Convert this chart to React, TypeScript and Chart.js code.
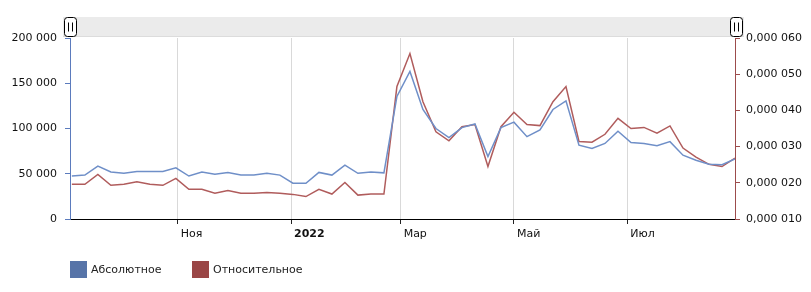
import React, { useEffect, useRef } from "react";
import { Chart, registerables } from "chart.js";

Chart.register(...registerables);

// ---- data ----
const axisStartDate = "2021-09-04";
const axisEndDate = "2022-08-28";
const firstWeekDate = "2021-09-05";

const absoluteValues = [
  47500, 48500, 58500, 52000, 50500, 52500, 52500, 52500, 56500, 47500,
  52000, 49500, 51500, 48500, 48500, 50500, 48500, 39500, 39500, 51500,
  48500, 59500, 50500, 52000, 51000, 135500, 163000, 121000, 100000, 90000,
  101000, 105000, 69000, 101000, 107000, 91000, 98500, 121000, 130500, 81500,
  78000, 83500, 97000, 84500, 83500, 81000, 85500, 70500, 65000, 60500,
  60000, 66500,
];

const relativeValues = [
  0.0000196, 0.0000196, 0.0000223, 0.0000193, 0.0000196, 0.0000203, 0.0000196, 0.0000193, 0.0000212, 0.0000182,
  0.0000182, 0.0000171, 0.0000179, 0.0000171, 0.0000171, 0.0000173, 0.0000171, 0.0000168, 0.0000162, 0.0000182,
  0.0000169, 0.0000201, 0.0000166, 0.0000169, 0.0000169, 0.0000466, 0.0000557, 0.0000424, 0.0000341, 0.0000316,
  0.0000355, 0.0000361, 0.0000245, 0.0000355, 0.0000395, 0.0000361, 0.0000358, 0.0000424, 0.0000466, 0.0000314,
  0.0000312, 0.0000334, 0.0000378, 0.000035, 0.0000353, 0.0000337, 0.0000357, 0.0000296, 0.0000271, 0.0000251,
  0.0000245, 0.0000268,
];

const monthTickDates = ["2021-11-01", "2022-01-01", "2022-03-01", "2022-05-01", "2022-07-01"];
const monthTickLabels = ["Ноя", "2022", "Мар", "Май", "Июл"];
const boldTickLabels = ["2022"];

const leftTicks = [0, 50000, 100000, 150000, 200000];
const rightTicks = [0.00001, 0.00002, 0.00003, 0.00004, 0.00005, 0.00006];

const seriesNames = ["Абсолютное", "Относительное"];

// ---- styles ----
const FONT = "'DejaVu Sans', Verdana, sans-serif";
const BLUE_LINE = "#6f8fc8";
const RED_LINE = "#b05c5c";
const BLUE_BOX = "#5774a8";
const RED_BOX = "#9a4646";
const BLUE_AXIS = "#5b7bbd";
const RED_AXIS = "#9c4c4c";

const DAY = 86400000;
const toDay = (s: string) => {
  const [y, m, d] = s.split("-").map(Number);
  return Date.UTC(y, m - 1, d);
};
const dayOffset = (s: string) => Math.round((toDay(s) - toDay(axisStartDate)) / DAY);

const fmtThousands = (v: number) =>
  String(Math.round(v)).replace(/\B(?=(\d{3})+(?!\d))/g, " ");
const fmtRel = (v: number) => "0,000 " + String(Math.round(v * 1e6)).padStart(3, "0");

const roundRect = (ctx: CanvasRenderingContext2D, x: number, y: number, w: number, h: number, r: number) => {
  ctx.beginPath();
  ctx.moveTo(x + r, y);
  ctx.lineTo(x + w - r, y);
  ctx.quadraticCurveTo(x + w, y, x + w, y + r);
  ctx.lineTo(x + w, y + h - r);
  ctx.quadraticCurveTo(x + w, y + h, x + w - r, y + h);
  ctx.lineTo(x + r, y + h);
  ctx.quadraticCurveTo(x, y + h, x, y + h - r);
  ctx.lineTo(x, y + r);
  ctx.quadraticCurveTo(x, y, x + r, y);
  ctx.closePath();
};

const decorPlugin = {
  id: "decor",
  afterDraw(chart: any) {
    const ctx: CanvasRenderingContext2D = chart.ctx;
    const area = chart.chartArea;
    ctx.save();
    // scrollbar
    const top = 17;
    const h = 20;
    ctx.fillStyle = "#ebebeb";
    ctx.fillRect(area.left - 7, top, area.right - area.left + 16, h);
    ctx.fillStyle = "#dcdcdc";
    ctx.fillRect(area.left - 7, top + h - 1, area.right - area.left + 16, 1);
    const drawHandle = (cx: number) => {
      const w = 12;
      const hh = 19;
      const x = Math.round(cx - w / 2) + 0.5;
      const y = top + 0.5;
      roundRect(ctx, x, y, w, hh, 3);
      ctx.fillStyle = "#ffffff";
      ctx.fill();
      ctx.strokeStyle = "#000000";
      ctx.lineWidth = 1;
      ctx.stroke();
      ctx.beginPath();
      ctx.moveTo(x + 4, y + 5);
      ctx.lineTo(x + 4, y + hh - 5);
      ctx.moveTo(x + 8, y + 5);
      ctx.lineTo(x + 8, y + hh - 5);
      ctx.stroke();
    };
    drawHandle(area.left);
    drawHandle(area.right + 1);

    // legend
    const ly = 261;
    ctx.font = `11px ${FONT}`;
    ctx.textBaseline = "middle";
    ctx.textAlign = "left";
    ctx.fillStyle = BLUE_BOX;
    ctx.fillRect(70, ly, 17, 17);
    ctx.fillStyle = "#222";
    ctx.fillText(seriesNames[0], 91, ly + 9);
    ctx.fillStyle = RED_BOX;
    ctx.fillRect(192, ly, 17, 17);
    ctx.fillStyle = "#222";
    ctx.fillText(seriesNames[1], 213, ly + 9);
    ctx.restore();
  },
};

export default function App() {
  const ref = useRef<HTMLCanvasElement | null>(null);

  useEffect(() => {
    if (!ref.current) return;
    const first = dayOffset(firstWeekDate);
    const xs = absoluteValues.map((_, i) => first + 7 * i);
    const tickVals = monthTickDates.map(dayOffset);

    const chart = new Chart(ref.current, {
      type: "line",
      data: {
        datasets: [
          {
            label: seriesNames[0],
            data: absoluteValues.map((v, i) => ({ x: xs[i], y: v })),
            borderColor: BLUE_LINE,
            borderWidth: 1.5,
            pointRadius: 0,
            tension: 0,
            yAxisID: "y",
          },
          {
            label: seriesNames[1],
            data: relativeValues.map((v, i) => ({ x: xs[i], y: v })),
            borderColor: RED_LINE,
            borderWidth: 1.5,
            pointRadius: 0,
            tension: 0,
            yAxisID: "y1",
          },
        ],
      },
      options: {
        responsive: false,
        animation: false,
        devicePixelRatio: 1,
        layout: { padding: { top: 38, left: 0, right: 0, bottom: 0 } },
        plugins: {
          legend: { display: false },
          tooltip: { enabled: false },
        },
        scales: {
          x: {
            type: "linear",
            min: 0,
            max: dayOffset(axisEndDate),
            afterFit: (s: any) => {
              s.height = 73;
            },
            afterBuildTicks: (s: any) => {
              s.ticks = tickVals.map((v) => ({ value: v }));
            },
            grid: {
              color: "#d9d9d9",
              lineWidth: 1,
              drawTicks: true,
              tickLength: 5,
              tickColor: "#222",
            },
            border: { color: "#000", width: 1 },
            ticks: {
              align: "start",
              labelOffset: 3,
              padding: 4,
              maxRotation: 0,
              autoSkip: false,
              color: "#111",
              font: (c: any) => ({
                family: FONT,
                size: 11,
                weight:
                  c.tick && boldTickLabels.includes(monthTickLabels[tickVals.indexOf(c.tick.value)])
                    ? "bold"
                    : "normal",
              }),
              callback: (v: any) => {
                const i = tickVals.indexOf(v);
                return i >= 0 ? monthTickLabels[i] : "";
              },
            },
          },
          y: {
            type: "linear",
            position: "left",
            min: 0,
            max: 200000,
            afterFit: (s: any) => {
              s.width = 70;
            },
            afterBuildTicks: (s: any) => {
              s.ticks = leftTicks.map((v) => ({ value: v }));
            },
            grid: {
              drawOnChartArea: false,
              drawTicks: true,
              tickLength: 5,
              tickColor: BLUE_AXIS,
            },
            border: { color: BLUE_AXIS, width: 1 },
            ticks: {
              padding: 8,
              color: "#111",
              font: { family: FONT, size: 11 },
              callback: (v: any) => fmtThousands(Number(v)),
            },
          },
          y1: {
            type: "linear",
            position: "right",
            min: 0.00001,
            max: 0.00006,
            afterFit: (s: any) => {
              s.width = 76;
            },
            afterBuildTicks: (s: any) => {
              s.ticks = rightTicks.map((v) => ({ value: v }));
            },
            grid: {
              drawOnChartArea: false,
              drawTicks: true,
              tickLength: 5,
              tickColor: RED_AXIS,
            },
            border: { color: RED_AXIS, width: 1 },
            ticks: {
              padding: 6,
              color: "#111",
              font: { family: FONT, size: 11 },
              callback: (v: any) => fmtRel(Number(v)),
            },
          },
        },
      } as any,
      plugins: [decorPlugin],
    });
    return () => chart.destroy();
  }, []);

  return (
    <div style={{ position: "absolute", left: 0, top: 0, width: 811, height: 292, background: "#fff" }}>
      <canvas ref={ref} width={811} height={292} style={{ display: "block", width: 811, height: 292 }} />
    </div>
  );
}
